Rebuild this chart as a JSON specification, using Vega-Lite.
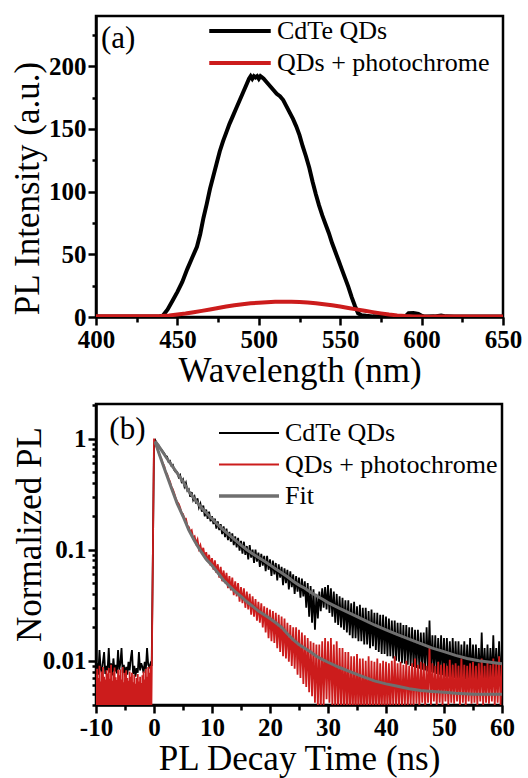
{
"$schema": "https://vega.github.io/schema/vega-lite/v6.json",
"background": "white",
"padding": {"left": 9, "top": 14, "right": 4, "bottom": 0},
"spacing": 1,
"resolve": {"scale": {"color": "independent"}, "legend": {"color": "independent"}},
"config": {
  "font": "Liberation Serif",
  "view": {"stroke": "black", "strokeWidth": 2.5},
  "axis": {"domainColor": "black", "domainWidth": 2.5, "tickColor": "black", "tickWidth": 2.5, "labelFont": "Liberation Serif", "labelFontWeight": "bold", "labelFontSize": 25, "labelColor": "black", "titleFont": "Liberation Serif", "titleFontWeight": "normal", "titleFontSize": 35, "titleColor": "black", "grid": false, "labelPadding": 2, "labelOverlap": false, "labelFlush": false},
  "legend": {"labelFont": "Liberation Serif", "labelFontSize": 26, "labelColor": "black", "labelFontWeight": "normal", "padding": 0, "labelLimit": 400}
},
"datasets": {
  "qa": [
    {"w":400,"v":0.3},{"w":410,"v":0.3},{"w":420,"v":0.3},{"w":430,"v":0.3},{"w":438,"v":0.3},{"w":441,"v":1},{"w":444,"v":6},{"w":447,"v":13},{"w":450,"v":20},{"w":453,"v":28},{"w":456,"v":38},{"w":459,"v":47},{"w":462,"v":56},{"w":464,"v":66},{"w":466,"v":79},{"w":468,"v":90},{"w":470,"v":102},{"w":472,"v":112},{"w":474,"v":122},{"w":476,"v":132},{"w":478,"v":140},{"w":480,"v":147},{"w":482,"v":154},{"w":484,"v":160},{"w":486,"v":166},{"w":488,"v":172},{"w":490,"v":178},{"w":492,"v":184},{"w":494,"v":190},{"w":495,"v":192},{"w":496,"v":190},{"w":497,"v":192},{"w":498,"v":191},{"w":499,"v":192},{"w":500,"v":190},{"w":501,"v":192},{"w":502,"v":191},{"w":503,"v":190},{"w":505,"v":187},{"w":507,"v":184},{"w":509,"v":181},{"w":511,"v":178},{"w":513,"v":176},{"w":515,"v":173},{"w":517,"v":168},{"w":519,"v":163},{"w":521,"v":158},{"w":523,"v":152},{"w":525,"v":145},{"w":527,"v":136},{"w":529,"v":128},{"w":531,"v":119},{"w":533,"v":108},{"w":535,"v":98},{"w":537,"v":89},{"w":539,"v":81},{"w":541,"v":74},{"w":543,"v":67},{"w":545,"v":59},{"w":547,"v":52},{"w":549,"v":45},{"w":551,"v":38},{"w":553,"v":31},{"w":555,"v":24},{"w":557,"v":16},{"w":559,"v":9},{"w":561,"v":3},{"w":563,"v":1.5},{"w":566,"v":1},{"w":570,"v":0.5},{"w":575,"v":0.3},{"w":585,"v":0.3},{"w":590,"v":0.5},{"w":592,"v":3},{"w":595,"v":3.2},{"w":598,"v":2.5},{"w":600,"v":1},{"w":602,"v":0.3},{"w":608,"v":0.5},{"w":612,"v":1.2},{"w":615,"v":0.5},{"w":620,"v":0.3},{"w":630,"v":0.3},{"w":640,"v":0.3},{"w":650,"v":0.3}
  ],
  "qb": [
    {"w":400,"v":0.5},{"w":420,"v":0.5},{"w":435,"v":0.6},{"w":440,"v":0.8},{"w":445,"v":1.3},{"w":450,"v":2},{"w":455,"v":2.8},{"w":460,"v":3.8},{"w":465,"v":4.9},{"w":470,"v":6},{"w":475,"v":7.2},{"w":480,"v":8.3},{"w":485,"v":9.3},{"w":490,"v":10.2},{"w":495,"v":10.9},{"w":500,"v":11.4},{"w":505,"v":11.8},{"w":510,"v":12.1},{"w":515,"v":12.2},{"w":520,"v":12.2},{"w":525,"v":12},{"w":530,"v":11.6},{"w":535,"v":11},{"w":540,"v":10.2},{"w":545,"v":9.3},{"w":550,"v":8.3},{"w":555,"v":7.2},{"w":560,"v":6.1},{"w":565,"v":5},{"w":570,"v":3.9},{"w":575,"v":2.9},{"w":580,"v":2},{"w":585,"v":1.3},{"w":590,"v":0.8},{"w":595,"v":0.5},{"w":600,"v":0.3},{"w":605,"v":0.2},{"w":610,"v":0.3},{"w":620,"v":0.4},{"w":650,"v":0.4}
  ],
  "bk": [
    {"t":-10,"v":0.0082},{"t":-9.8,"v":0.0095},{"t":-9.6,"v":0.0075},{"t":-9.4,"v":0.0125},{"t":-9.2,"v":0.0085},{"t":-9,"v":0.0078},{"t":-8.8,"v":0.0098},{"t":-8.6,"v":0.012},{"t":-8.4,"v":0.0076},{"t":-8.2,"v":0.009},{"t":-8,"v":0.0082},{"t":-7.8,"v":0.013},{"t":-7.6,"v":0.0078},{"t":-7.4,"v":0.0095},{"t":-7.2,"v":0.0074},{"t":-7,"v":0.0105},{"t":-6.8,"v":0.008},{"t":-6.6,"v":0.0092},{"t":-6.4,"v":0.0077},{"t":-6.2,"v":0.0125},{"t":-6,"v":0.0083},{"t":-5.8,"v":0.0095},{"t":-5.6,"v":0.013},{"t":-5.4,"v":0.0078},{"t":-5.2,"v":0.0092},{"t":-5,"v":0.0072},{"t":-4.8,"v":0.0088},{"t":-4.6,"v":0.0075},{"t":-4.4,"v":0.0098},{"t":-4.2,"v":0.0082},{"t":-4,"v":0.0105},{"t":-3.8,"v":0.0125},{"t":-3.6,"v":0.0076},{"t":-3.4,"v":0.009},{"t":-3.2,"v":0.0072},{"t":-3,"v":0.0086},{"t":-2.8,"v":0.0078},{"t":-2.6,"v":0.012},{"t":-2.4,"v":0.0082},{"t":-2.2,"v":0.0095},{"t":-2,"v":0.0088},{"t":-1.8,"v":0.0078},{"t":-1.6,"v":0.0098},{"t":-1.4,"v":0.0084},{"t":-1.2,"v":0.013},{"t":-1,"v":0.0092},{"t":-0.8,"v":0.0088},{"t":-0.6,"v":0.0095},{"t":-0.4,"v":0.009},
    {"t":0,"v":0.85},{"t":0.25,"v":0.96},{"t":0.5,"v":0.9},{"t":0.75,"v":0.88},{"t":1,"v":0.82},{"t":1.25,"v":0.8},{"t":1.5,"v":0.77},{"t":1.75,"v":0.74},{"t":2,"v":0.7},{"t":2.25,"v":0.69},{"t":2.5,"v":0.62},{"t":2.75,"v":0.63},{"t":3,"v":0.57},{"t":3.25,"v":0.58},{"t":3.5,"v":0.52},{"t":3.75,"v":0.5},{"t":4,"v":0.5},{"t":4.25,"v":0.45},{"t":4.5,"v":0.47},{"t":4.75,"v":0.41},{"t":5,"v":0.43},{"t":5.25,"v":0.37},{"t":5.5,"v":0.4},{"t":5.75,"v":0.34},{"t":6,"v":0.35},{"t":6.25,"v":0.3},{"t":6.5,"v":0.33},{"t":6.75,"v":0.28},{"t":7,"v":0.3},{"t":7.25,"v":0.26},{"t":7.5,"v":0.29},{"t":7.75,"v":0.24},{"t":8,"v":0.26},{"t":8.25,"v":0.22},{"t":8.5,"v":0.25},{"t":8.75,"v":0.2},{"t":9,"v":0.23},{"t":9.25,"v":0.19},{"t":9.5,"v":0.22},{"t":9.75,"v":0.18},{"t":10,"v":0.2},{"t":10.25,"v":0.17},{"t":10.5,"v":0.19},{"t":10.75,"v":0.155},{"t":11,"v":0.18},{"t":11.25,"v":0.15},{"t":11.5,"v":0.17},{"t":11.75,"v":0.138},{"t":12,"v":0.162},{"t":12.25,"v":0.13},{"t":12.5,"v":0.155},{"t":12.75,"v":0.122},{"t":13,"v":0.145},{"t":13.25,"v":0.118},{"t":13.5,"v":0.14},{"t":13.75,"v":0.11},{"t":14,"v":0.132},{"t":14.25,"v":0.105},{"t":14.5,"v":0.128},{"t":14.75,"v":0.098},{"t":15,"v":0.12},{"t":15.25,"v":0.092},{"t":15.5,"v":0.118},{"t":15.75,"v":0.09},{"t":16,"v":0.108},{"t":16.25,"v":0.082},{"t":16.5,"v":0.11},{"t":16.75,"v":0.085},{"t":17,"v":0.1},{"t":17.25,"v":0.076},{"t":17.5,"v":0.1},{"t":17.75,"v":0.078},{"t":18,"v":0.094},{"t":18.25,"v":0.07},{"t":18.5,"v":0.092},{"t":18.75,"v":0.072},{"t":19,"v":0.088},{"t":19.25,"v":0.064},{"t":19.5,"v":0.088},{"t":19.75,"v":0.066},{"t":20,"v":0.082},{"t":20.25,"v":0.058},{"t":20.5,"v":0.08},{"t":20.75,"v":0.06},{"t":21,"v":0.076},{"t":21.25,"v":0.053},{"t":21.5,"v":0.074},{"t":21.75,"v":0.056},{"t":22,"v":0.07},{"t":22.25,"v":0.048},{"t":22.5,"v":0.068},{"t":22.75,"v":0.05},{"t":23,"v":0.066},{"t":23.25,"v":0.044},{"t":23.5,"v":0.064},{"t":23.75,"v":0.046},{"t":24,"v":0.06},{"t":24.25,"v":0.04},{"t":24.5,"v":0.058},{"t":24.75,"v":0.042},{"t":25,"v":0.056},{"t":25.25,"v":0.037},{"t":25.5,"v":0.055},{"t":25.75,"v":0.038},{"t":26,"v":0.052},{"t":26.25,"v":0.03},{"t":26.5,"v":0.05},{"t":26.75,"v":0.025},{"t":27,"v":0.047},{"t":27.25,"v":0.022},{"t":27.5,"v":0.044},{"t":27.75,"v":0.019},{"t":28,"v":0.04},{"t":28.25,"v":0.024},{"t":28.5,"v":0.042},{"t":28.75,"v":0.028},{"t":29,"v":0.045},{"t":29.25,"v":0.03},{"t":29.5,"v":0.046},{"t":29.75,"v":0.029},{"t":30,"v":0.048},{"t":30.25,"v":0.027},{"t":30.5,"v":0.045},{"t":30.75,"v":0.025},{"t":31,"v":0.042},{"t":31.25,"v":0.022},{"t":31.5,"v":0.04},{"t":31.75,"v":0.021},{"t":32,"v":0.038},{"t":32.25,"v":0.02},{"t":32.5,"v":0.037},{"t":32.75,"v":0.019},{"t":33,"v":0.035},{"t":33.25,"v":0.018},{"t":33.5,"v":0.035},{"t":33.75,"v":0.017},{"t":34,"v":0.033},{"t":34.25,"v":0.016},{"t":34.5,"v":0.034},{"t":34.75,"v":0.016},{"t":35,"v":0.031},{"t":35.25,"v":0.015},{"t":35.5,"v":0.032},{"t":35.75,"v":0.015},{"t":36,"v":0.03},{"t":36.25,"v":0.014},{"t":36.5,"v":0.03},{"t":36.75,"v":0.014},{"t":37,"v":0.028},{"t":37.25,"v":0.013},{"t":37.5,"v":0.029},{"t":37.75,"v":0.0135},{"t":38,"v":0.027},{"t":38.25,"v":0.0125},{"t":38.5,"v":0.027},{"t":38.75,"v":0.012},{"t":39,"v":0.026},{"t":39.25,"v":0.0115},{"t":39.5,"v":0.026},{"t":39.75,"v":0.0115},{"t":40,"v":0.025},{"t":40.25,"v":0.011},{"t":40.5,"v":0.024},{"t":40.75,"v":0.011},{"t":41,"v":0.023},{"t":41.25,"v":0.0105},{"t":41.5,"v":0.023},{"t":41.75,"v":0.01},{"t":42,"v":0.022},{"t":42.25,"v":0.0098},{"t":42.5,"v":0.022},{"t":42.75,"v":0.0095},{"t":43,"v":0.021},{"t":43.25,"v":0.0094},{"t":43.5,"v":0.021},{"t":43.75,"v":0.0092},{"t":44,"v":0.02},{"t":44.25,"v":0.009},{"t":44.5,"v":0.02},{"t":44.75,"v":0.0088},{"t":45,"v":0.019},{"t":45.25,"v":0.0086},{"t":45.5,"v":0.019},{"t":45.75,"v":0.0085},{"t":46,"v":0.018},{"t":46.25,"v":0.0083},{"t":46.5,"v":0.018},{"t":46.75,"v":0.0082},{"t":47,"v":0.02},{"t":47.25,"v":0.008},{"t":47.5,"v":0.023},{"t":47.75,"v":0.0079},{"t":48,"v":0.017},{"t":48.25,"v":0.0078},{"t":48.5,"v":0.017},{"t":48.75,"v":0.0076},{"t":49,"v":0.016},{"t":49.25,"v":0.0075},{"t":49.5,"v":0.017},{"t":49.75,"v":0.0074},{"t":50,"v":0.016},{"t":50.25,"v":0.0072},{"t":50.5,"v":0.016},{"t":50.75,"v":0.0072},{"t":51,"v":0.015},{"t":51.25,"v":0.0071},{"t":51.5,"v":0.016},{"t":51.75,"v":0.007},{"t":52,"v":0.015},{"t":52.25,"v":0.007},{"t":52.5,"v":0.015},{"t":52.75,"v":0.0069},{"t":53,"v":0.014},{"t":53.25,"v":0.0068},{"t":53.5,"v":0.015},{"t":53.75,"v":0.0068},{"t":54,"v":0.014},{"t":54.25,"v":0.0067},{"t":54.5,"v":0.016},{"t":54.75,"v":0.0067},{"t":55,"v":0.014},{"t":55.25,"v":0.0066},{"t":55.5,"v":0.014},{"t":55.75,"v":0.0066},{"t":56,"v":0.013},{"t":56.25,"v":0.0066},{"t":56.5,"v":0.018},{"t":56.75,"v":0.0065},{"t":57,"v":0.013},{"t":57.25,"v":0.0065},{"t":57.5,"v":0.014},{"t":57.75,"v":0.0065},{"t":58,"v":0.013},{"t":58.25,"v":0.0065},{"t":58.5,"v":0.017},{"t":58.75,"v":0.0064},{"t":59,"v":0.013},{"t":59.25,"v":0.0064},{"t":59.5,"v":0.015},{"t":59.75,"v":0.0064},{"t":60,"v":0.013}
  ],
  "rd": [
    {"t":-10,"v":0.0075},{"t":-9.9,"v":0.002},{"t":-9.8,"v":0.0085},{"t":-9.7,"v":0.002},{"t":-9.6,"v":0.007},{"t":-9.5,"v":0.002},{"t":-9.4,"v":0.009},{"t":-9.3,"v":0.002},{"t":-9.2,"v":0.0065},{"t":-9.1,"v":0.002},{"t":-9,"v":0.008},{"t":-8.9,"v":0.002},{"t":-8.8,"v":0.0088},{"t":-8.7,"v":0.002},{"t":-8.6,"v":0.0072},{"t":-8.5,"v":0.002},{"t":-8.4,"v":0.0068},{"t":-8.3,"v":0.002},{"t":-8.2,"v":0.0082},{"t":-8.1,"v":0.002},{"t":-8,"v":0.0077},{"t":-7.9,"v":0.002},{"t":-7.8,"v":0.0086},{"t":-7.7,"v":0.002},{"t":-7.6,"v":0.0069},{"t":-7.5,"v":0.002},{"t":-7.4,"v":0.0092},{"t":-7.3,"v":0.002},{"t":-7.2,"v":0.0066},{"t":-7.1,"v":0.002},{"t":-7,"v":0.0079},{"t":-6.9,"v":0.002},{"t":-6.8,"v":0.0087},{"t":-6.7,"v":0.002},{"t":-6.6,"v":0.0071},{"t":-6.5,"v":0.002},{"t":-6.4,"v":0.0067},{"t":-6.3,"v":0.002},{"t":-6.2,"v":0.0083},{"t":-6.1,"v":0.002},{"t":-6,"v":0.0074},{"t":-5.9,"v":0.002},{"t":-5.8,"v":0.0084},{"t":-5.7,"v":0.002},{"t":-5.6,"v":0.0068},{"t":-5.5,"v":0.002},{"t":-5.4,"v":0.0088},{"t":-5.3,"v":0.002},{"t":-5.2,"v":0.0064},{"t":-5.1,"v":0.002},{"t":-5,"v":0.0078},{"t":-4.9,"v":0.002},{"t":-4.8,"v":0.0082},{"t":-4.7,"v":0.002},{"t":-4.6,"v":0.007},{"t":-4.5,"v":0.002},{"t":-4.4,"v":0.0066},{"t":-4.3,"v":0.002},{"t":-4.2,"v":0.008},{"t":-4.1,"v":0.002},{"t":-4,"v":0.0072},{"t":-3.9,"v":0.002},{"t":-3.8,"v":0.0078},{"t":-3.7,"v":0.002},{"t":-3.6,"v":0.0064},{"t":-3.5,"v":0.002},{"t":-3.4,"v":0.0075},{"t":-3.3,"v":0.002},{"t":-3.2,"v":0.0062},{"t":-3.1,"v":0.002},{"t":-3,"v":0.007},{"t":-2.9,"v":0.002},{"t":-2.8,"v":0.0076},{"t":-2.7,"v":0.002},{"t":-2.6,"v":0.0065},{"t":-2.5,"v":0.002},{"t":-2.4,"v":0.0072},{"t":-2.3,"v":0.002},{"t":-2.2,"v":0.0063},{"t":-2.1,"v":0.002},{"t":-2,"v":0.0074},{"t":-1.9,"v":0.002},{"t":-1.8,"v":0.008},{"t":-1.7,"v":0.002},{"t":-1.6,"v":0.0068},{"t":-1.5,"v":0.002},{"t":-1.4,"v":0.0085},{"t":-1.3,"v":0.002},{"t":-1.2,"v":0.0072},{"t":-1.1,"v":0.002},{"t":-1,"v":0.0088},{"t":-0.9,"v":0.002},{"t":-0.8,"v":0.0078},{"t":-0.7,"v":0.002},{"t":-0.6,"v":0.009},{"t":-0.5,"v":0.002},
    {"t":0,"v":1.0},{"t":0.25,"v":0.9},{"t":0.5,"v":0.83},{"t":0.75,"v":0.76},{"t":1,"v":0.7},{"t":1.25,"v":0.66},{"t":1.5,"v":0.6},{"t":1.75,"v":0.57},{"t":2,"v":0.5},{"t":2.25,"v":0.48},{"t":2.5,"v":0.44},{"t":2.75,"v":0.41},{"t":3,"v":0.37},{"t":3.25,"v":0.35},{"t":3.5,"v":0.32},{"t":3.75,"v":0.29},{"t":4,"v":0.27},{"t":4.25,"v":0.26},{"t":4.5,"v":0.24},{"t":4.75,"v":0.215},{"t":5,"v":0.21},{"t":5.25,"v":0.19},{"t":5.5,"v":0.19},{"t":5.75,"v":0.165},{"t":6,"v":0.16},{"t":6.25,"v":0.145},{"t":6.5,"v":0.15},{"t":6.75,"v":0.128},{"t":7,"v":0.132},{"t":7.25,"v":0.115},{"t":7.5,"v":0.124},{"t":7.75,"v":0.102},{"t":8,"v":0.11},{"t":8.25,"v":0.094},{"t":8.5,"v":0.104},{"t":8.75,"v":0.086},{"t":9,"v":0.095},{"t":9.25,"v":0.078},{"t":9.5,"v":0.09},{"t":9.75,"v":0.072},{"t":10,"v":0.084},{"t":10.25,"v":0.066},{"t":10.5,"v":0.08},{"t":10.75,"v":0.062},{"t":11,"v":0.074},{"t":11.25,"v":0.056},{"t":11.5,"v":0.07},{"t":11.75,"v":0.052},{"t":12,"v":0.065},{"t":12.25,"v":0.05},{"t":12.5,"v":0.062},{"t":12.75,"v":0.045},{"t":13,"v":0.058},{"t":13.25,"v":0.043},{"t":13.5,"v":0.056},{"t":13.75,"v":0.039},{"t":14,"v":0.052},{"t":14.25,"v":0.038},{"t":14.5,"v":0.05},{"t":14.75,"v":0.034},{"t":15,"v":0.046},{"t":15.25,"v":0.033},{"t":15.5,"v":0.045},{"t":15.75,"v":0.03},{"t":16,"v":0.042},{"t":16.25,"v":0.029},{"t":16.5,"v":0.04},{"t":16.75,"v":0.026},{"t":17,"v":0.038},{"t":17.25,"v":0.025},{"t":17.5,"v":0.036},{"t":17.75,"v":0.023},{"t":18,"v":0.034},{"t":18.25,"v":0.022},{"t":18.5,"v":0.033},{"t":18.75,"v":0.02},{"t":19,"v":0.031},{"t":19.25,"v":0.018},{"t":19.5,"v":0.03},{"t":19.75,"v":0.016},{"t":20,"v":0.029},{"t":20.25,"v":0.015},{"t":20.5,"v":0.028},{"t":20.75,"v":0.0145},{"t":21,"v":0.027},{"t":21.25,"v":0.013},{"t":21.5,"v":0.026},{"t":21.75,"v":0.012},{"t":22,"v":0.025},{"t":22.25,"v":0.011},{"t":22.5,"v":0.024},{"t":22.75,"v":0.0105},{"t":23,"v":0.022},{"t":23.25,"v":0.0098},{"t":23.5,"v":0.021},{"t":23.75,"v":0.009},{"t":24,"v":0.02},{"t":24.25,"v":0.0085},{"t":24.5,"v":0.02},{"t":24.75,"v":0.0075},{"t":25,"v":0.019},{"t":25.25,"v":0.007},{"t":25.5,"v":0.018},{"t":25.75,"v":0.0062},{"t":26,"v":0.017},{"t":26.25,"v":0.0058},{"t":26.5,"v":0.016},{"t":26.75,"v":0.0052},{"t":27,"v":0.015},{"t":27.25,"v":0.0048},{"t":27.5,"v":0.0145},{"t":27.75,"v":0.0042},{"t":28,"v":0.014},{"t":28.25,"v":0.0038},{"t":28.5,"v":0.014},{"t":28.75,"v":0.0035},{"t":29,"v":0.015},{"t":29.25,"v":0.004},{"t":29.5,"v":0.016},{"t":29.75,"v":0.0045},{"t":30,"v":0.015},{"t":30.25,"v":0.0042},{"t":30.5,"v":0.016},{"t":30.75,"v":0.004},{"t":31,"v":0.014},{"t":31.25,"v":0.0036},{"t":31.5,"v":0.015},{"t":31.75,"v":0.0034},{"t":32,"v":0.013},{"t":32.25,"v":0.0035},{"t":32.5,"v":0.013},{"t":32.75,"v":0.0032},{"t":33,"v":0.012},{"t":33.25,"v":0.0034},{"t":33.5,"v":0.012},{"t":33.75,"v":0.003},{"t":34,"v":0.011},{"t":34.25,"v":0.0032},{"t":34.5,"v":0.011},{"t":34.75,"v":0.003},{"t":35,"v":0.0115},{"t":35.25,"v":0.0032},{"t":35.5,"v":0.0105},{"t":35.75,"v":0.003},{"t":36,"v":0.0105},{"t":36.25,"v":0.0033},{"t":36.5,"v":0.01},{"t":36.75,"v":0.003},{"t":37,"v":0.011},{"t":37.25,"v":0.0034},{"t":37.5,"v":0.01},{"t":37.75,"v":0.0031},{"t":38,"v":0.0098},{"t":38.25,"v":0.0035},{"t":38.5,"v":0.0105},{"t":38.75,"v":0.003},{"t":39,"v":0.0095},{"t":39.25,"v":0.0034},{"t":39.5,"v":0.01},{"t":39.75,"v":0.0032},{"t":40,"v":0.0098},{"t":40.25,"v":0.0035},{"t":40.5,"v":0.0095},{"t":40.75,"v":0.0033},{"t":41,"v":0.01},{"t":41.25,"v":0.0038},{"t":41.5,"v":0.011},{"t":41.75,"v":0.0036},{"t":42,"v":0.0095},{"t":42.25,"v":0.0038},{"t":42.5,"v":0.0098},{"t":42.75,"v":0.0036},{"t":43,"v":0.0092},{"t":43.25,"v":0.004},{"t":43.5,"v":0.01},{"t":43.75,"v":0.0037},{"t":44,"v":0.009},{"t":44.25,"v":0.004},{"t":44.5,"v":0.0095},{"t":44.75,"v":0.0038},{"t":45,"v":0.0105},{"t":45.25,"v":0.0041},{"t":45.5,"v":0.0092},{"t":45.75,"v":0.0038},{"t":46,"v":0.0098},{"t":46.25,"v":0.0042},{"t":46.5,"v":0.0095},{"t":46.75,"v":0.0039},{"t":47,"v":0.009},{"t":47.25,"v":0.0042},{"t":47.5,"v":0.0135},{"t":47.75,"v":0.004},{"t":48,"v":0.0095},{"t":48.25,"v":0.0043},{"t":48.5,"v":0.009},{"t":48.75,"v":0.0039},{"t":49,"v":0.0098},{"t":49.25,"v":0.0042},{"t":49.5,"v":0.0092},{"t":49.75,"v":0.004},{"t":50,"v":0.0095},{"t":50.25,"v":0.0043},{"t":50.5,"v":0.009},{"t":50.75,"v":0.004},{"t":51,"v":0.0102},{"t":51.25,"v":0.0042},{"t":51.5,"v":0.0092},{"t":51.75,"v":0.0041},{"t":52,"v":0.0095},{"t":52.25,"v":0.0043},{"t":52.5,"v":0.009},{"t":52.75,"v":0.004},{"t":53,"v":0.0105},{"t":53.25,"v":0.0042},{"t":53.5,"v":0.0092},{"t":53.75,"v":0.004},{"t":54,"v":0.009},{"t":54.25,"v":0.0043},{"t":54.5,"v":0.0095},{"t":54.75,"v":0.0041},{"t":55,"v":0.0098},{"t":55.25,"v":0.0042},{"t":55.5,"v":0.009},{"t":55.75,"v":0.004},{"t":56,"v":0.0095},{"t":56.25,"v":0.0043},{"t":56.5,"v":0.0105},{"t":56.75,"v":0.004},{"t":57,"v":0.009},{"t":57.25,"v":0.0042},{"t":57.5,"v":0.0098},{"t":57.75,"v":0.0041},{"t":58,"v":0.0092},{"t":58.25,"v":0.0043},{"t":58.5,"v":0.0105},{"t":58.75,"v":0.004},{"t":59,"v":0.0095},{"t":59.25,"v":0.0042},{"t":59.5,"v":0.011},{"t":59.75,"v":0.004},{"t":60,"v":0.0095}
  ],
  "ft": [
    {"g":"a","t":0.2,"v":0.95},{"g":"a","t":1,"v":0.83},{"g":"a","t":2,"v":0.69},{"g":"a","t":3,"v":0.58},{"g":"a","t":4,"v":0.49},{"g":"a","t":5,"v":0.41},{"g":"a","t":6,"v":0.335},{"g":"a","t":7,"v":0.285},{"g":"a","t":8,"v":0.245},{"g":"a","t":9,"v":0.215},{"g":"a","t":10,"v":0.19},{"g":"a","t":11,"v":0.168},{"g":"a","t":12,"v":0.15},{"g":"a","t":13,"v":0.135},{"g":"a","t":14,"v":0.122},{"g":"a","t":15,"v":0.11},{"g":"a","t":16,"v":0.1},{"g":"a","t":17,"v":0.092},{"g":"a","t":18,"v":0.085},{"g":"a","t":19,"v":0.079},{"g":"a","t":20,"v":0.073},{"g":"a","t":21,"v":0.067},{"g":"a","t":22,"v":0.062},{"g":"a","t":23,"v":0.057},{"g":"a","t":24,"v":0.052},{"g":"a","t":25,"v":0.048},{"g":"a","t":26,"v":0.045},{"g":"a","t":27,"v":0.0415},{"g":"a","t":28,"v":0.0385},{"g":"a","t":29,"v":0.036},{"g":"a","t":30,"v":0.0334},{"g":"a","t":32,"v":0.0296},{"g":"a","t":34,"v":0.0265},{"g":"a","t":36,"v":0.0236},{"g":"a","t":38,"v":0.021},{"g":"a","t":40,"v":0.019},{"g":"a","t":42,"v":0.0172},{"g":"a","t":44,"v":0.0157},{"g":"a","t":46,"v":0.0143},{"g":"a","t":48,"v":0.013},{"g":"a","t":50,"v":0.0121},{"g":"a","t":52,"v":0.0112},{"g":"a","t":54,"v":0.0105},{"g":"a","t":56,"v":0.01},{"g":"a","t":58,"v":0.0097},{"g":"a","t":60,"v":0.0094},
    {"g":"b","t":0.2,"v":0.93},{"g":"b","t":1,"v":0.7},{"g":"b","t":2,"v":0.5},{"g":"b","t":3,"v":0.36},{"g":"b","t":4,"v":0.26},{"g":"b","t":5,"v":0.2},{"g":"b","t":6,"v":0.15},{"g":"b","t":7,"v":0.12},{"g":"b","t":8,"v":0.098},{"g":"b","t":9,"v":0.082},{"g":"b","t":10,"v":0.072},{"g":"b","t":11,"v":0.062},{"g":"b","t":12,"v":0.053},{"g":"b","t":13,"v":0.047},{"g":"b","t":14,"v":0.042},{"g":"b","t":15,"v":0.038},{"g":"b","t":16,"v":0.034},{"g":"b","t":17,"v":0.031},{"g":"b","t":18,"v":0.028},{"g":"b","t":19,"v":0.026},{"g":"b","t":20,"v":0.024},{"g":"b","t":21,"v":0.022},{"g":"b","t":22,"v":0.02},{"g":"b","t":23,"v":0.0175},{"g":"b","t":24,"v":0.0155},{"g":"b","t":25,"v":0.014},{"g":"b","t":26,"v":0.013},{"g":"b","t":27,"v":0.012},{"g":"b","t":28,"v":0.011},{"g":"b","t":29,"v":0.0103},{"g":"b","t":30,"v":0.0097},{"g":"b","t":32,"v":0.0087},{"g":"b","t":34,"v":0.0079},{"g":"b","t":36,"v":0.0072},{"g":"b","t":38,"v":0.0066},{"g":"b","t":40,"v":0.0062},{"g":"b","t":42,"v":0.0059},{"g":"b","t":44,"v":0.0056},{"g":"b","t":46,"v":0.0054},{"g":"b","t":48,"v":0.0053},{"g":"b","t":50,"v":0.0052},{"g":"b","t":52,"v":0.0051},{"g":"b","t":55,"v":0.005},{"g":"b","t":60,"v":0.005}
  ]
},
"vconcat": [
  {
    "width": 407, "height": 301,
    "encoding": {
      "x": {"field": "w", "type": "quantitative", "scale": {"domain": [400, 650], "nice": false},
        "axis": {"title": "Wavelength (nm)", "values": [400,425,450,475,500,525,550,575,600,625,650], "labelExpr": "datum.value % 50 === 0 ? datum.label : ''", "tickSize": {"condition": {"test": "datum.value % 50 !== 0", "value": 5}, "value": 8}, "titlePadding": 1}},
      "y": {"field": "v", "type": "quantitative", "scale": {"domain": [0, 240], "nice": false},
        "axis": {"title": "PL Intensity (a.u.)", "values": [0,25,50,75,100,125,150,175,200,225], "labelExpr": "datum.value % 50 === 0 ? datum.label : ''", "tickSize": {"condition": {"test": "datum.value % 50 !== 0", "value": 4}, "value": 8}, "titlePadding": 3, "titleY": 172}}
    },
    "layer": [
      {"data": {"name": "qa"}, "mark": {"type": "line", "strokeWidth": 4, "clip": true},
        "encoding": {"color": {"datum": "CdTe QDs", "type": "nominal", "scale": {"domain": ["CdTe QDs", "QDs + photochrome"], "range": ["#000000", "#cc1c1c"]},
          "legend": {"title": null, "orient": "none", "legendX": 131, "legendY": 2, "symbolType": "M-4.1,0L4.1,0", "symbolSize": 225, "symbolStrokeWidth": 4, "labelOffset": 24, "rowPadding": 6}}}},
      {"data": {"name": "qb"}, "mark": {"type": "line", "strokeWidth": 4, "clip": true},
        "encoding": {"color": {"datum": "QDs + photochrome", "type": "nominal"}}},
      {"data": {"values": [{"w": 403, "v": 222, "txt": "(a)"}]}, "mark": {"type": "text", "align": "left", "baseline": "middle", "fontSize": 31, "font": "Liberation Serif", "color": "black"},
        "encoding": {"text": {"field": "txt"}}}
    ]
  },
  {
    "width": 406, "height": 301,
    "encoding": {
      "x": {"field": "t", "type": "quantitative", "scale": {"domain": [-10, 60], "nice": false},
        "axis": {"title": "PL Decay Time (ns)", "values": [-10,-5,0,5,10,15,20,25,30,35,40,45,50,55,60], "labelExpr": "datum.value % 10 === 0 ? (datum.value < 0 ? '-' + abs(datum.value) : '' + datum.value) : ''", "tickSize": {"condition": {"test": "datum.value % 10 !== 0", "value": 5}, "value": 8}, "titlePadding": 1}},
      "y": {"field": "v", "type": "quantitative", "scale": {"type": "log", "domain": [0.004, 2.05], "nice": false},
        "axis": {"title": "Normalized PL", "values": [0.004,0.005,0.006,0.007,0.008,0.009,0.01,0.02,0.03,0.04,0.05,0.06,0.07,0.08,0.09,0.1,0.2,0.3,0.4,0.5,0.6,0.7,0.8,0.9,1,2], "labelExpr": "datum.value === 1 ? '1' : datum.value === 0.1 ? '0.1' : datum.value === 0.01 ? '0.01' : ''", "tickSize": {"condition": {"test": "datum.value !== 1 && datum.value !== 0.1 && datum.value !== 0.01", "value": 4}, "value": 8}, "titlePadding": -5, "titleY": 130}}
    },
    "layer": [
      {"data": {"name": "bk"}, "mark": {"type": "line", "strokeWidth": 1.8, "clip": true},
        "encoding": {"color": {"datum": "CdTe QDs", "type": "nominal", "scale": {"domain": ["CdTe QDs", "QDs + photochrome", "Fit"], "range": ["#000000", "#cc1c1c", "#6f6f6f"]},
          "legend": {"title": null, "orient": "none", "legendX": 140, "legendY": 16, "symbolType": "M-4,0L4,0", "symbolSize": 225, "symbolStrokeWidth": 2, "labelOffset": 23, "rowPadding": 5.5,
            "encode": {"symbols": {"update": {"strokeWidth": {"signal": "datum.value === 'Fit' ? 3.5 : 2"}}}}}}}},
      {"data": {"name": "rd"}, "mark": {"type": "line", "strokeWidth": 1.8, "clip": true},
        "encoding": {"color": {"datum": "QDs + photochrome", "type": "nominal"}}},
      {"data": {"name": "ft"}, "mark": {"type": "line", "strokeWidth": 3, "clip": true},
        "encoding": {"color": {"datum": "Fit", "type": "nominal"}, "detail": {"field": "g"}}},
      {"data": {"values": [{"t": -7.7, "v": 1.2, "txt": "(b)"}]}, "mark": {"type": "text", "align": "left", "baseline": "middle", "fontSize": 31, "font": "Liberation Serif", "color": "black"},
        "encoding": {"text": {"field": "txt"}}}
    ]
  }
]
}
